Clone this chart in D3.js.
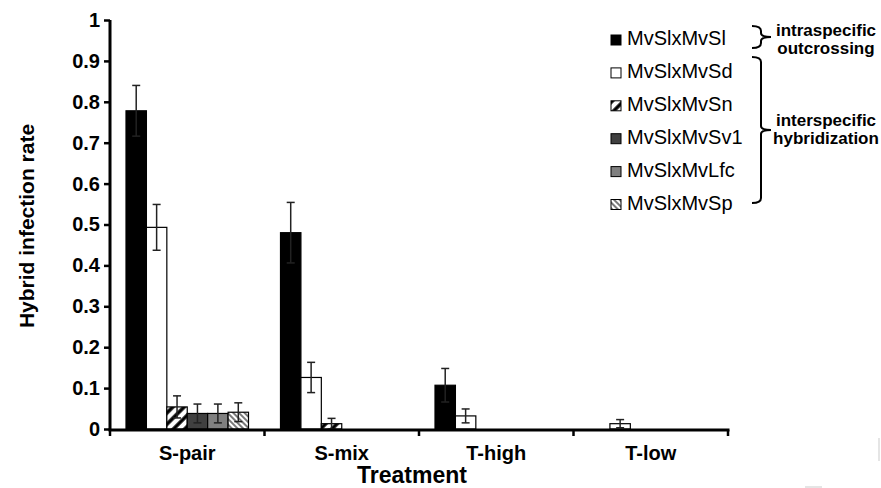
<!DOCTYPE html>
<html>
<head>
<meta charset="utf-8">
<script src="https://cdnjs.cloudflare.com/ajax/libs/d3/7.8.5/d3.min.js"></script>
<style>
  body { margin: 0; background: white; }
  text { font-family: Arial, "Liberation Sans", sans-serif; }
</style>
</head>
<body>
<script>
  // treatments on the x axis
  const categories = ["S-pair", "S-mix", "T-high", "T-low"];

  // crosses shown as bars inside each treatment
  const seriesNames = ["MvSlxMvSl", "MvSlxMvSd", "MvSlxMvSn", "MvSlxMvSv1", "MvSlxMvLfc", "MvSlxMvSp"];

  // mean hybrid infection rate, one array per cross (in category order)
  const slValues  = [0.778, 0.480, 0.107, 0];
  const sdValues  = [0.493, 0.126, 0.032, 0.013];
  const snValues  = [0.054, 0.013, 0, 0];
  const sv1Values = [0.038, 0, 0, 0];
  const lfcValues = [0.038, 0, 0, 0];
  const spValues  = [0.041, 0, 0, 0];

  // standard errors
  const slErr  = [0.062, 0.074, 0.041, 0];
  const sdErr  = [0.056, 0.037, 0.017, 0.010];
  const snErr  = [0.027, 0.013, 0, 0];
  const sv1Err = [0.023, 0, 0, 0];
  const lfcErr = [0.023, 0, 0, 0];
  const spErr  = [0.023, 0, 0, 0];

  const yTicks = [0, 0.1, 0.2, 0.3, 0.4, 0.5, 0.6, 0.7, 0.8, 0.9, 1];

  let svg = "";

  window.onload = function() {
    svg = d3.select("body").append("svg")
      .attr("width", 881)
      .attr("height", 488)
      .style("background", "white");

    makePatterns();

    // build rows from the arrays
    const valueSets = [slValues, sdValues, snValues, sv1Values, lfcValues, spValues];
    const errSets = [slErr, sdErr, snErr, sv1Err, lfcErr, spErr];
    const fills = ["#000000", "#ffffff", "url(#hatchSn)", "#404040", "#808080", "url(#hatchSp)"];

    let rows = [];
    categories.forEach((c, i) => {
      seriesNames.forEach((s, j) => {
        rows.push({ cat: c, series: s, value: valueSets[j][i], err: errSets[j][i], fill: fills[j] });
      });
    });

    // scales
    let x0 = d3.scaleBand().domain(categories).range([110, 728]);
    let x1 = d3.scaleBand().domain(seriesNames).range([16, x0.bandwidth() - 16]);
    let y = d3.scaleLinear().domain([0, 1]).range([429, 20]);

    // bars
    svg.selectAll(".bar")
      .data(rows.filter(d => d.value > 0))
      .enter()
      .append("rect")
        .attr("class", "bar")
        .attr("x", d => x0(d.cat) + x1(d.series))
        .attr("y", d => y(d.value))
        .attr("width", x1.bandwidth())
        .attr("height", d => y(0) - y(d.value))
        .attr("fill", d => d.fill)
        .attr("stroke", "#000")
        .attr("stroke-width", 1.2);

    // error bars
    let eb = svg.selectAll(".err")
      .data(rows.filter(d => d.err > 0))
      .enter()
      .append("g")
        .attr("class", "err")
        .attr("stroke", "#222")
        .attr("stroke-width", 1.5);

    let cx = d => x0(d.cat) + x1(d.series) + x1.bandwidth() / 2;
    eb.append("line")
      .attr("x1", cx).attr("x2", cx)
      .attr("y1", d => y(d.value + d.err))
      .attr("y2", d => y(Math.max(0, d.value - d.err)));
    eb.append("line")
      .attr("x1", d => cx(d) - 4).attr("x2", d => cx(d) + 4)
      .attr("y1", d => y(d.value + d.err)).attr("y2", d => y(d.value + d.err));
    eb.append("line")
      .attr("x1", d => cx(d) - 4).attr("x2", d => cx(d) + 4)
      .attr("y1", d => y(Math.max(0, d.value - d.err))).attr("y2", d => y(Math.max(0, d.value - d.err)));

    drawAxes(x0, y);
    makeLegend();

    // faint scan marks at the bottom right of the original
    svg.append("line")
      .attr("x1", 879).attr("x2", 879).attr("y1", 438).attr("y2", 461)
      .attr("stroke", "#dddddd").attr("stroke-width", 1.5);
    svg.append("line")
      .attr("x1", 805).attr("x2", 822).attr("y1", 487).attr("y2", 487)
      .attr("stroke", "#dddddd").attr("stroke-width", 1.5);
  };

  // hatch fills for the patterned bars
  function makePatterns() {
    let defs = svg.append("defs");

    let sn = defs.append("pattern")
      .attr("id", "hatchSn")
      .attr("patternUnits", "userSpaceOnUse")
      .attr("width", 8).attr("height", 8)
      .attr("patternTransform", "rotate(45)");
    sn.append("rect").attr("width", 8).attr("height", 8).attr("fill", "white");
    sn.append("line")
      .attr("x1", 2).attr("x2", 2).attr("y1", 0).attr("y2", 8)
      .attr("stroke", "black").attr("stroke-width", 3.5);

    let sp = defs.append("pattern")
      .attr("id", "hatchSp")
      .attr("patternUnits", "userSpaceOnUse")
      .attr("width", 4).attr("height", 4)
      .attr("patternTransform", "rotate(-45)");
    sp.append("rect").attr("width", 4).attr("height", 4).attr("fill", "white");
    sp.append("line")
      .attr("x1", 1).attr("x2", 1).attr("y1", 0).attr("y2", 4)
      .attr("stroke", "#333").attr("stroke-width", 1.3);
  }

  function drawAxes(x0, y) {
    // y axis
    let yAxis = d3.axisLeft(y).tickValues(yTicks).tickSize(6).tickPadding(4).tickFormat(d3.format("~g"));
    let gy = svg.append("g")
      .attr("transform", "translate(110, 0)")
      .call(yAxis);
    gy.select(".domain").attr("stroke", "#000").attr("stroke-width", 3).attr("d", "M0," + y(1) + "V" + (y(0) + 1.5));
    gy.selectAll(".tick line").attr("stroke", "#000").attr("stroke-width", 2.5);
    gy.selectAll(".tick text")
      .attr("fill", "#000")
      .style("font-size", "20px")
      .style("font-weight", "bold")
      .style("font-family", "Arial, 'Liberation Sans', sans-serif");

    // x axis with ticks on the band edges
    let edges = categories.map(c => x0(c)).concat([x0.range()[1]]);
    svg.append("line")
      .attr("x1", 108.5).attr("x2", 729.5)
      .attr("y1", y(0) + 1).attr("y2", y(0) + 1)
      .attr("stroke", "#000").attr("stroke-width", 3);
    svg.selectAll(".xtick")
      .data(edges)
      .enter()
      .append("line")
        .attr("x1", d => d).attr("x2", d => d)
        .attr("y1", y(0) + 1).attr("y2", y(0) + 7)
        .attr("stroke", "#000").attr("stroke-width", 2.5);

    svg.selectAll(".xlabel")
      .data(categories)
      .enter()
      .append("text")
        .attr("x", d => x0(d) + x0.bandwidth() / 2)
        .attr("y", 460)
        .attr("text-anchor", "middle")
        .style("font-size", "20px")
        .style("font-weight", "bold")
        .text(d => d);

    svg.append("text")
      .attr("x", 412)
      .attr("y", 483)
      .attr("text-anchor", "middle")
      .style("font-size", "23px")
      .style("font-weight", "bold")
      .text("Treatment");

    svg.append("text")
      .attr("transform", "translate(34, 226)rotate(-90)")
      .attr("text-anchor", "middle")
      .style("font-size", "21px")
      .style("font-weight", "bold")
      .text("Hybrid infection rate");
  }

  // legend with braces
  function makeLegend() {
    const legFills = ["#000000", "#ffffff", "url(#hatchSn)", "#404040", "#808080", "url(#hatchSp)"];
    let leg = svg.selectAll(".leg")
      .data(seriesNames)
      .enter()
      .append("g")
        .attr("class", "leg")
        .attr("transform", (d, i) => "translate(611," + (45 + i * 32.9) + ")");
    leg.append("rect")
      .attr("x", 0).attr("y", -10)
      .attr("width", 10).attr("height", 10)
      .attr("fill", (d, i) => legFills[i])
      .attr("stroke", "#000").attr("stroke-width", 1);
    leg.append("text")
      .attr("x", 16).attr("y", 0)
      .style("font-size", "20px")
      .text(d => d);

    // curly brace path: left ends at x0, body at x0+9, tip at x0+19
    function brace(x, top, bottom) {
      let mid = (top + bottom) / 2;
      let b = x + 9;
      return "M" + x + "," + top +
        " Q" + b + "," + top + " " + b + "," + (top + 5) +
        " V" + (mid - 4) +
        " Q" + b + "," + mid + " " + (x + 19) + "," + mid +
        " Q" + b + "," + mid + " " + b + "," + (mid + 4) +
        " V" + (bottom - 5) +
        " Q" + b + "," + bottom + " " + x + "," + bottom;
    }

    svg.append("path")
      .attr("d", brace(752, 26, 48))
      .attr("fill", "none").attr("stroke", "#000").attr("stroke-width", 2);
    svg.append("path")
      .attr("d", brace(752, 57, 203))
      .attr("fill", "none").attr("stroke", "#000").attr("stroke-width", 2);

    let notes = [
      { t: "intraspecific", y: 36 },
      { t: "outcrossing", y: 54 },
      { t: "interspecific", y: 126 },
      { t: "hybridization", y: 144 }
    ];
    svg.selectAll(".note")
      .data(notes)
      .enter()
      .append("text")
        .attr("x", 826)
        .attr("y", d => d.y)
        .attr("text-anchor", "middle")
        .style("font-size", "17px")
        .style("font-weight", "bold")
        .text(d => d.t);
  }
</script>
</body>
</html>
